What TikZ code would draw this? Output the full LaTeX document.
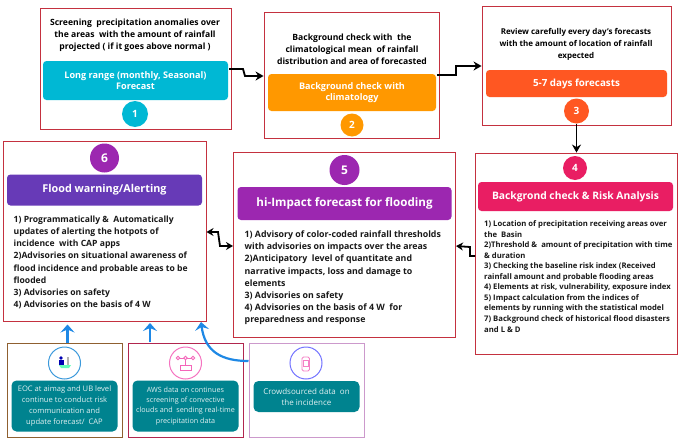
\documentclass[tikz,border=0pt]{standalone}
\usepackage{fontspec}
\setmainfont{Open Sans}
\usetikzlibrary{arrows.meta,calc}
\definecolor{framered}{HTML}{C4313F}
\definecolor{cOne}{HTML}{00B8D4}
\definecolor{cTwo}{HTML}{FF9800}
\definecolor{cThree}{HTML}{FF5722}
\definecolor{cFour}{HTML}{E91E63}
\definecolor{cFive}{HTML}{9C27B0}
\definecolor{cSix}{HTML}{673AB7}
\definecolor{cTeal}{HTML}{00838F}
\definecolor{cBlue}{HTML}{1E88E5}
\tikzset{
  frame/.style={draw=framered,line width=0.9pt,fill=white,inner sep=0pt},
  smallframe/.style={draw=#1,line width=1pt,fill=white,inner sep=0pt,minimum width=115pt,minimum height=94pt},
  band/.style={fill=#1,rounded corners=3.5pt,inner sep=1pt,text=white,font=\bfseries\fontsize{9.1}{11.5}\selectfont,align=center},
  teal/.style={fill=cTeal,rounded corners=5pt,inner sep=1pt,text=white!88!cTeal,font=\fontsize{7.6}{10.8}\selectfont,align=center},
  num/.style={circle,fill=#1,inner sep=0pt,text=white,font=\bfseries\fontsize{10}{10}\selectfont},
  intro/.style={font=\bfseries\fontsize{8.6}{12}\selectfont,align=center,text=black,inner sep=0pt},
  body/.style={font=\bfseries\fontsize{7.7}{10.55}\selectfont,align=left,text=black!90,inner sep=0pt,anchor=north west},
  flow/.style={line width=1.8pt,-{Stealth[length=8pt,width=9pt]}},
  flowleft/.style={line width=1.8pt,-{Stealth[length=7pt,width=8pt]}},
  flowboth/.style={line width=1.8pt,{Stealth[length=7pt,width=8pt]}-{Stealth[length=7pt,width=8pt]}},
  feed/.style={draw=cBlue,line width=2.2pt,-{Stealth[length=8pt,width=14pt,inset=3pt]}},
  ring/.style={circle,draw=#1,line width=1pt,fill=white,minimum size=32pt,inner sep=0pt}
}
\begin{document}
\begin{tikzpicture}[x=1pt,y=-1pt]
\useasboundingbox (0,0) rectangle (681,442);
% step 1
\node[frame,minimum width=191pt,minimum height=121pt] (b1) at (135.5,68.5) {};
\node[intro] (t1) at (135,35) {Screening~ precipitation anomalies over\\the areas~ with the amount of rainfall\\projected ( if it goes above normal )};
\node[band=cOne,minimum width=185pt,minimum height=39pt] (h1) at (135.5,80.5) {Long range (monthly, Seasonal)\\Forecast};
\node[num=cOne,minimum size=26pt] (n1) at (135,114) {1};
% step 2
\node[frame,minimum width=175pt,minimum height=126pt] (b2) at (351.5,75) {};
\node[intro] (t2) at (352,49) {Background check with~ the\\climatological mean~ of rainfall\\distribution and area of forecasted};
\node[band=cTwo,minimum width=168pt,minimum height=37pt] (h2) at (352,92.5) {Background check with\\climatology};
\node[num=cTwo,minimum size=23pt] (n2) at (352,125) {2};
% step 3
\node[frame,minimum width=189pt,minimum height=119pt] (b3) at (576.5,65.5) {};
\node[intro,font=\bfseries\fontsize{8}{12}\selectfont] (t3) at (576,44) {Review carefully every day's forecasts\\with the amount of location of rainfall\\expected};
\node[band=cThree,minimum width=181pt,minimum height=27pt,font=\bfseries\fontsize{9.8}{12}\selectfont] (h3) at (576.5,83.5) {5-7 days forecasts};
\node[num=cThree,minimum size=25pt] (n3) at (576.5,111) {3};
% step 4
\node[frame,minimum width=202pt,minimum height=201pt] (b4) at (576,253.5) {};
\node[num=cFour,minimum size=24pt] (n4) at (575,168) {4};
\node[band=cFour,minimum width=195pt,minimum height=29pt,font=\bfseries\fontsize{10.3}{12}\selectfont] (h4) at (575.5,196.5) {Backgrond check \& Risk Analysis};
\node[body] (t4) at (484,220.5) {1) Location of precipitation receiving areas over\\the~ Basin\\2)Threshold \&~ amount of precipitation with time\\\& duration\\3) Checking the baseline risk index (Received\\rainfall amount and probable flooding areas\\4) Elements at risk, vulnerability, exposure index\\5) Impact calculation from the indices of\\elements by running with the statistical model\\7) Background check of historical flood disasters\\and L \& D};
% step 5
\node[frame,minimum width=222pt,minimum height=185pt] (b5) at (344,244.5) {};
\node[num=cFive,minimum size=30pt,font=\bfseries\fontsize{12}{12}\selectfont] (n5) at (344.5,170) {5};
\node[band=cFive,minimum width=214pt,minimum height=33pt,font=\bfseries\fontsize{11.6}{13}\selectfont] (h5) at (344.5,203.5) {hi-Impact forecast for flooding};
\node[body,font=\bfseries\fontsize{8.8}{12.2}\selectfont] (t5) at (244.5,230.5) {1) Advisory of color-coded rainfall thresholds\\with advisories on impacts over the areas\\2)Anticipatory~ level of quantitate and\\narrative impacts, loss and damage to\\elements\\3) Advisories on safety\\4) Advisories on the basis of 4 W~ for\\preparedness and response};
% step 6
\node[frame,minimum width=203pt,minimum height=180pt] (b6) at (104.5,231) {};
\node[num=cFive,minimum size=29pt,font=\bfseries\fontsize{12}{12}\selectfont] (n6) at (104.5,158) {6};
\node[band=cSix,minimum width=195pt,minimum height=31pt,font=\bfseries\fontsize{10.8}{12}\selectfont] (h6) at (104.5,190) {Flood warning/Alerting};
\node[body,font=\bfseries\fontsize{8.6}{12.2}\selectfont] (t6) at (13.5,215.5) {1) Programmatically \&~ Automatically\\updates of alerting the hotpots of\\incidence~ with CAP apps\\2)Advisories on situational awareness of\\flood incidence and probable areas to be\\flooded\\3) Advisories on safety\\4) Advisories on the basis of 4 W};
% sources
\node[smallframe=brown!75!black] (sa) at (64.5,390) {};
\node[smallframe=violet!45!red!70!gray] (sb) at (185.5,390) {};
\node[smallframe=violet!40!white] (sc) at (306.5,390) {};
\node[ring=cyan!70!blue!80] (ra) at (64.5,363) {};
\node[ring=magenta!55!white] (rb) at (185.5,363) {};
\node[ring=blue!55!white] (rc) at (306,363) {};
\node[teal,minimum width=106pt,minimum height=51pt] (ta) at (64.5,406) {EOC at aimag and UB level\\continue to conduct risk\\communication and\\update forecast/~ CAP};
\node[teal,minimum width=106pt,minimum height=51pt,font=\fontsize{7.2}{10.2}\selectfont] (tb) at (185.5,406) {AWS data on continues\\screening of convective\\clouds and~ sending real-time\\precipitation data};
\node[teal,minimum width=106pt,minimum height=31pt,font=\fontsize{8}{11}\selectfont] (tc) at (306.5,396.5) {Crowdsourced data~ on\\the incidence};
% icon a
\fill[green!45!cyan!60] (59,365) -- (71,365) -- (69,368) -- (61,368) -- cycle;
\fill[blue!70!black] (61,358) circle (1.8pt);
\fill[blue!70!black] (59,360) rectangle (64,365);
\fill[gray!60] (67,357) rectangle (68.5,365);
% icon b
\draw[magenta!60!white,line width=0.8pt] (178,358) -- (193,358) (185.5,358) -- (185.5,365);
\draw[magenta!60!white,line width=0.8pt,fill=white] (178,358) circle (1.8pt) (185.5,358) circle (1.8pt) (193,358) circle (1.8pt);
\draw[magenta!60!white,line width=0.8pt] (180,365) rectangle (191,370);
% icon c
\draw[magenta!50!white,line width=0.8pt,rounded corners=1.5pt] (302,357) rectangle (309.5,371);
\draw[magenta!50!white,line width=0.7pt] (303.5,360) rectangle (308,366);
% connectors
\coordinate (c1s) at (229,69); \coordinate (c2s) at (437,75); \coordinate (c4s) at (475,256);
\coordinate (c5e) at (206.5,232); \coordinate (c5r) at (456,246); \coordinate (c6e) at (233,246);
\draw[flow] (c1s) -- (243,69) -- (245,76) -- (b2.west |- 0,76);
\draw[flow] (c2s) -- (456,75) -- (456,66) -- (b3.west |- 0,66);
\draw[flow] (n3.south) -- (b4.north -| n3.south);
\draw[flowleft] (c4s) -- (470,256) -- (470,247) -- (c5r);
\draw[flowboth] (c5e) -- (218,232) -- (220,246) -- (c6e);
\draw[feed] ([xshift=3pt]sa.north) -- ++(0,-18);
\draw[feed] (150,342) -- (150,323);
\draw[feed] (sc.west |- 0,361) .. controls (222,361) and (205,352) .. (201,322);
\end{tikzpicture}
\end{document}
